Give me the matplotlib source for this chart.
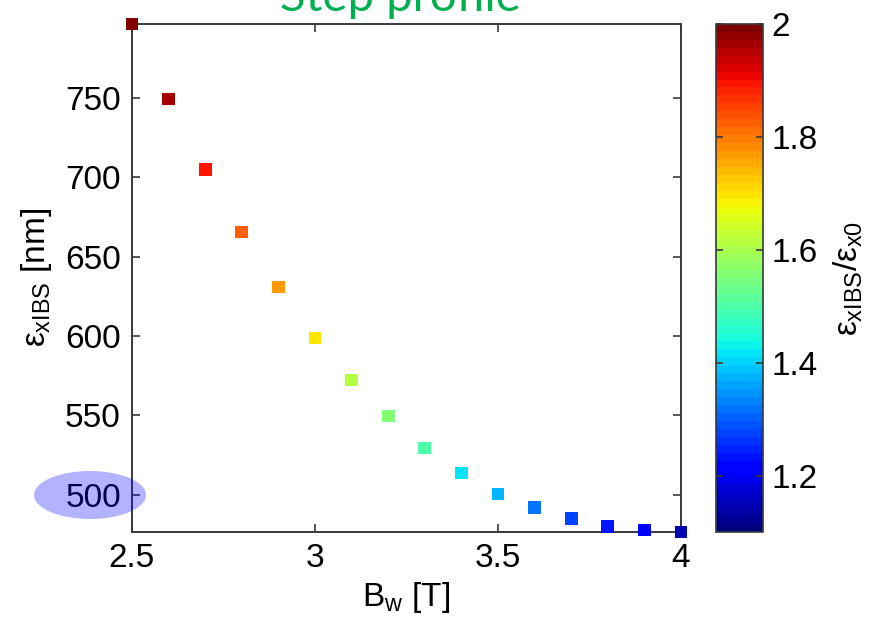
"""
Step profile: IBS emittance vs wiggler field, coloured by emittance ratio.
"""
import matplotlib
matplotlib.use("Agg")
import matplotlib.pyplot as plt
from matplotlib.patches import Ellipse

plt.rcParams["font.family"] = ["Liberation Sans", "DejaVu Sans"]
plt.rcParams["mathtext.fontset"] = "custom"
plt.rcParams["mathtext.rm"] = "Liberation Sans"
plt.rcParams["mathtext.it"] = "Liberation Sans"

# wiggler field (T), IBS emittance (nm), ratio eps_xIBS / eps_x0
bw = [2.5, 2.6, 2.7, 2.8, 2.9, 3.0, 3.1, 3.2, 3.3, 3.4, 3.5, 3.6, 3.7, 3.8, 3.9, 4.0]
emit = [796.7, 749.4, 705.0, 665.5, 630.8, 598.7, 572.2, 549.5,
        529.4, 513.6, 500.4, 491.6, 484.7, 479.6, 477.7, 476.4]
ratio = [2.0, 1.96, 1.89, 1.82, 1.77, 1.70, 1.62, 1.555,
         1.50, 1.42, 1.38, 1.325, 1.28, 1.24, 1.20, 1.15]

xticks = [2.5, 3, 3.5, 4]
xticklabels = ["2.5", "3", "3.5", "4"]
yticks = [500, 550, 600, 650, 700, 750]
cticks = [1.2, 1.4, 1.6, 1.8, 2.0]
cticklabels = ["1.2", "1.4", "1.6", "1.8", "2"]

FS = 24
SPINE = "#3a3a3a"

fig = plt.figure(figsize=(8.7, 6.26), dpi=100)
ax = fig.add_axes([0.1517, 0.1502, 0.6311, 0.8115])
cax = fig.add_axes([0.823, 0.1502, 0.054, 0.8115])

cmap = plt.get_cmap("jet", 64)
sc = ax.scatter(bw, emit, c=ratio, cmap=cmap, vmin=1.1, vmax=2.0,
                marker="s", s=85, linewidths=0, clip_on=False, zorder=3)

ax.set_xlim(2.5, 4.0)
ax.set_ylim(min(emit), max(emit))
ax.set_xticks(xticks)
ax.set_xticklabels(xticklabels)
ax.set_yticks(yticks)
ax.tick_params(direction="in", length=6, width=1.2, color=SPINE,
               top=True, right=True, labelsize=FS, pad=8)
for sp in ax.spines.values():
    sp.set_color(SPINE)
    sp.set_linewidth(1.4)

ax.set_xlabel(r"B$_{\rm w}$ [T]", fontsize=FS, labelpad=4)
ax.set_ylabel(r"$\varepsilon_{\rm xIBS}$ [nm]", fontsize=FS, labelpad=8)

cb = fig.colorbar(sc, cax=cax)
cb.set_ticks(cticks)
cb.set_ticklabels(cticklabels)
cb.ax.tick_params(direction="in", length=5, width=1.2, color=SPINE,
                  left=True, right=True, labelsize=FS, pad=6)
cb.outline.set_edgecolor(SPINE)
cb.outline.set_linewidth(1.2)
cb.set_label(r"$\varepsilon_{\rm xIBS}/\varepsilon_{\rm x0}$", fontsize=FS,
             rotation=90, labelpad=10)

# title partially cut off at the top edge
fig.text(400 / 870, 1 - 11 / 626, "Step profile", color="#00b050",
         fontsize=34, family=["Lato", "DejaVu Sans"],
         ha="center", va="baseline")

# highlight ellipse over the 500 tick label
ell = Ellipse((90 / 870, 1 - 495 / 626), 112 / 870, 48 / 626,
              transform=fig.transFigure, facecolor="#0000ff", alpha=0.3,
              edgecolor="none", zorder=10)
fig.patches.append(ell)

fig.savefig("out.png", dpi=100)
